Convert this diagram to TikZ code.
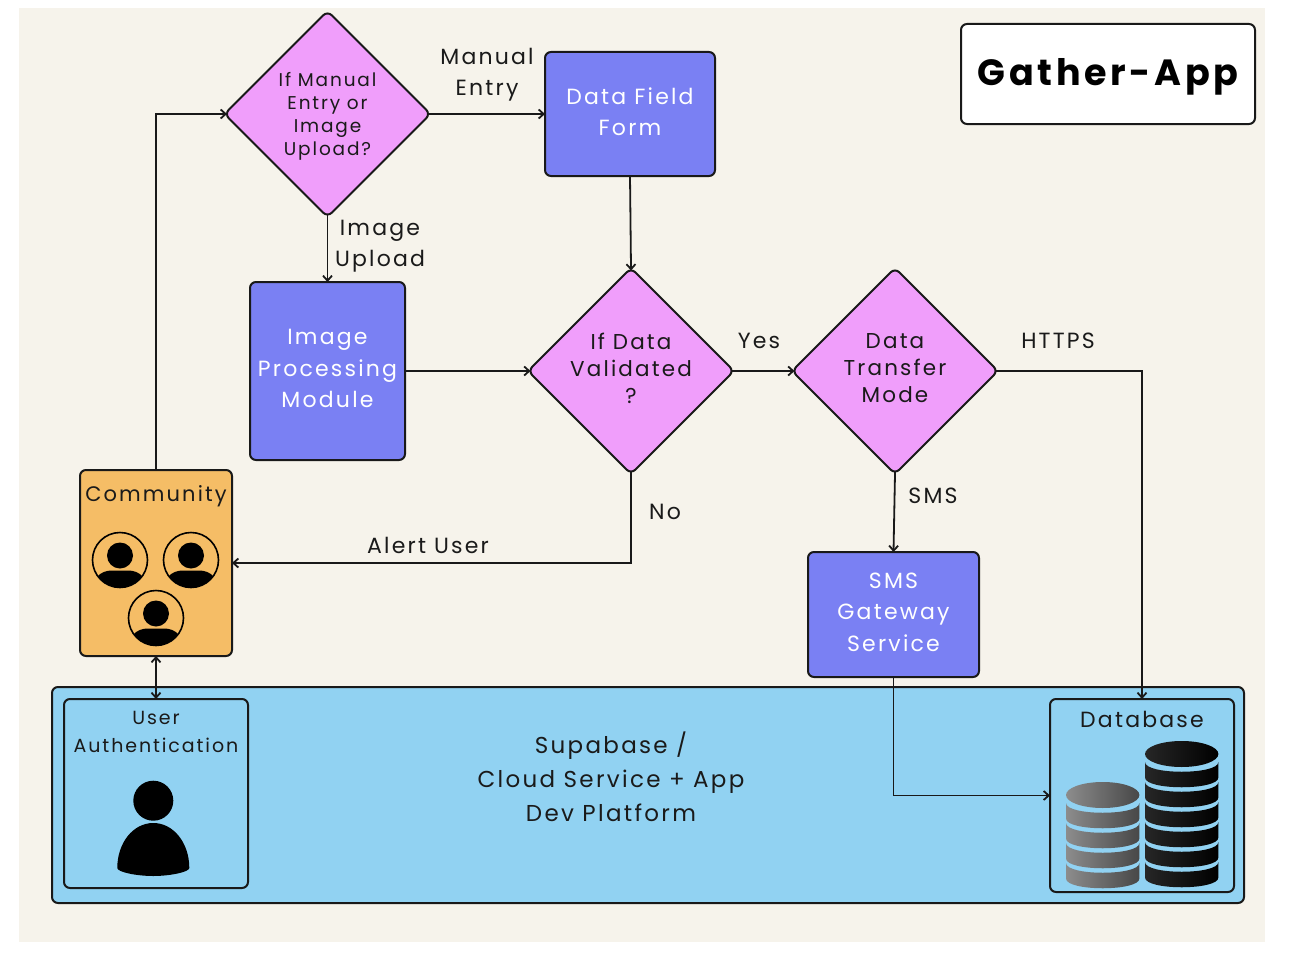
\documentclass[tikz,border=0pt]{standalone}
\usepackage{fontspec}
\setmainfont[LetterSpace=10]{Poppins}
\usetikzlibrary{arrows.meta,positioning,shapes.geometric}
\definecolor{paper}{HTML}{F6F3EB}
\definecolor{pinkdec}{HTML}{F09EFB}
\definecolor{bluebox}{HTML}{7A80F3}
\definecolor{orangebox}{HTML}{F5BD66}
\definecolor{skybox}{HTML}{91D2F2}
\definecolor{inktext}{HTML}{1A1A1A}
\newcommand{\lifttext}{\rule[-5pt]{0pt}{5pt}}

\begin{document}
\begin{tikzpicture}[x=1pt,y=-1pt,>={Straight Barb[length=5pt,width=9pt]},
 edgeline/.style={line width=1.8pt,draw=black!90},
 roundbox/.style={draw=black!90,line width=2pt,rounded corners=6pt,inner sep=0pt,outer sep=0pt,align=center},
 choice/.style={diamond,aspect=1,draw=black!90,line width=2pt,rounded corners=6pt,fill=pinkdec,
  minimum width=206pt,minimum height=206pt,inner sep=0pt,outer sep=0pt,align=center,text=inktext},
 procbox/.style={roundbox,fill=bluebox,text=white,font=\fontsize{22}{31.5}\selectfont},
 tag/.style={align=center,inner sep=0pt,text=inktext,font=\fontsize{22}{31.5}\selectfont},
 flow/.style={edgeline,->},
 outof/.style={shorten <=-2.5pt},
 into/.style={shorten >=-2.5pt},
 person/.pic={
  \draw[line width=1.6pt] (0,0) circle (27.5pt);
  \fill (0,-4.5) circle (13pt);
  \begin{scope}
   \clip (0,0) circle (27.5pt);
   \fill (-23,17) .. controls (-19,12) and (-13,10.5) .. (-8,10.5) -- (8,10.5)
    .. controls (13,10.5) and (19,12) .. (23,17) -- (23,30) -- (-23,30) -- cycle;
  \end{scope}
 },
 dbstack/.pic={
  \foreach \i in {1,...,#1}{
   \shade[left color=dbleft,right color=dbright] (-36.7,\i*20-12) .. controls (-36.7,\i*20+1) and (36.7,\i*20+1) .. (36.7,\i*20-12)
    -- (36.7,\i*20+3.5) .. controls (36.7,\i*20+16.5) and (-36.7,\i*20+16.5) .. (-36.7,\i*20+3.5) -- cycle;
  }
  \shade[left color=dbleft,right color=dbright] (0,0) ellipse [x radius=36.7pt,y radius=13pt];
 }]
\useasboundingbox (0,0) rectangle (1296,966);
\fill[paper] (19,8) rectangle (1265,942);

% flow chart
\node[choice,font=\fontsize{18.5}{23}\selectfont] (ask) at (327.5,114) {\rule{0pt}{18pt}If Manual\\Entry or\\Image\\Upload?};
\node[procbox,right=114.5pt of ask,minimum width=170pt,minimum height=124pt] (form) {Data Field\\Form\lifttext};
\node[procbox,below=65pt of ask,minimum width=155pt,minimum height=178pt] (imgproc) {Image\\Processing\\Module\lifttext};
\node[choice,below=92pt of form,xshift=1pt,font=\fontsize{21.5}{27}\selectfont] (valid) {If Data\\Validated\\?\lifttext};
\node[choice,right=58pt of valid,font=\fontsize{21.5}{27}\selectfont] (transfer) {Data\\Transfer\\Mode\lifttext};
\node[procbox,below=78pt of transfer,xshift=-1.5pt,minimum width=171pt,minimum height=125pt] (sms) {SMS\\Gateway\\Service\lifttext};
\node[roundbox,fill=orangebox,minimum width=152pt,minimum height=186pt] (community) at (156,563) {};
\node[tag,below=15pt of community.north,font=\fontsize{21}{31}\selectfont] (commtext) {Community};
\node[roundbox,fill=white,minimum width=294pt,minimum height=100pt,
 font=\fontsize{36.5}{40}\selectfont\bfseries] (title) at (1108,74) {\rule{0pt}{32pt}Gather-App};

% cloud platform
\node[roundbox,fill=skybox,minimum width=1192pt,minimum height=216pt] (platform) at (648,795) {};
\node[tag,font=\fontsize{23}{34}\selectfont] (platformtext) at (611,777) {Supabase /\\Cloud Service + App\\Dev Platform};
\node[roundbox,minimum width=184pt,minimum height=189pt] (auth) at (156,793.5) {};
\node[tag,below=12pt of auth.north,font=\fontsize{19}{28}\selectfont] (authtext) {User\\Authentication};
\node[roundbox,minimum width=184pt,minimum height=193pt] (db) at (1142,795.5) {};
\node[tag,below=12pt of db.north] (dbtext) {Database};

% icons
\pic at (120,560) {person};
\pic at (191,560) {person};
\pic at (156,618) {person};
\fill (153.3,800.7) circle (20pt);
\fill (117.3,868) .. controls (117.3,843) and (133,823) .. (153.3,823)
 .. controls (173.6,823) and (189.3,843) .. (189.3,868)
 .. controls (189.3,872) and (170,876) .. (153.3,876)
 .. controls (136,876) and (117.3,872) .. (117.3,868) -- cycle;
\colorlet{dbleft}{black!45}\colorlet{dbright}{black!72}
\pic at (1102.7,795) {dbstack=4};
\colorlet{dbleft}{black!85}\colorlet{dbright}{black}
\pic at (1181.7,754) {dbstack=6};

% connector labels
\node[tag] (manual) at (487,74.5) {Manual\\Entry};
\node[tag] (imgupload) at (380,246) {Image\\Upload};
\node[tag] (yes) at (759,341) {Yes};
\node[tag] (https) at (1058,341) {HTTPS};
\node[tag] (no) at (665,512) {No};
\node[tag] (smstext) at (933,496) {SMS};
\node[tag] (alert) at (428,545) {Alert User};

\draw[flow,outof] (ask.east)--(form.west);
\draw[flow,outof] (ask.south)--(imgproc.north);
\draw[flow,into] (imgproc.east)--(valid.west);
\draw[flow,into] (form.south)--(valid.north);
\draw[flow,outof,into] (valid.east)--(transfer.west);
\draw[flow,outof] (transfer.south)--(sms.north);
\draw[flow,outof] (transfer.east)-|(db.north);
\draw[flow,outof] (valid.south)|-(community.east);
\draw[flow,into] (community.north)|-(ask.west);
\draw[edgeline,<->] (community.south)--(auth.north);
\draw[flow] (sms.south)|-(db.west);
\end{tikzpicture}
\end{document}
